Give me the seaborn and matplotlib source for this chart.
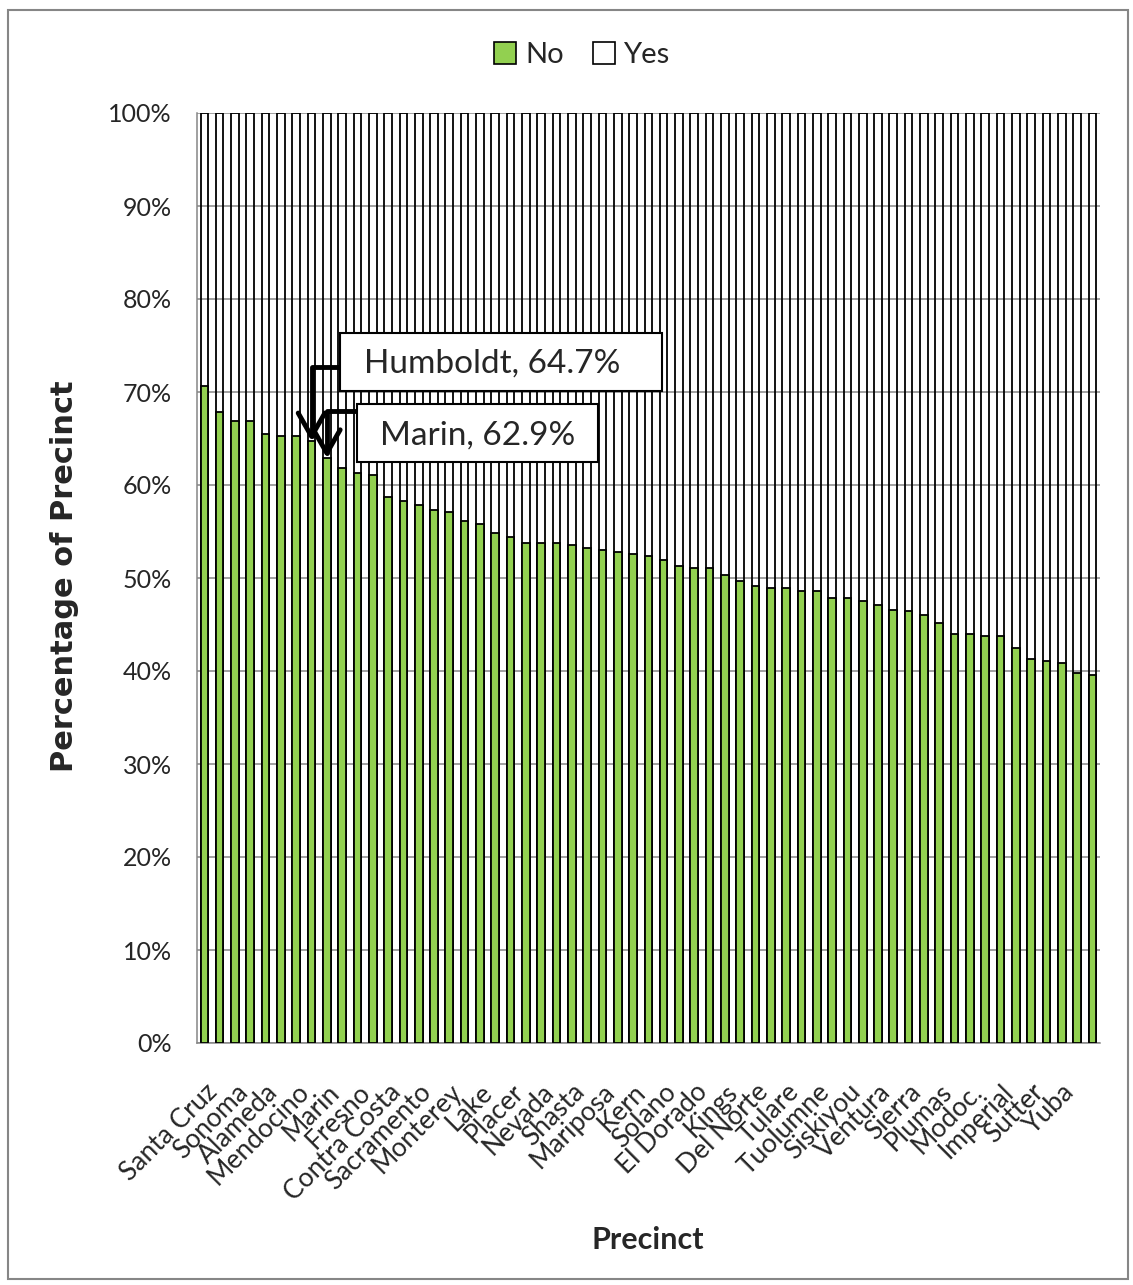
import matplotlib.pyplot as plt
import matplotlib.ticker as mticker
import numpy as np
import pandas as pd
import seaborn as sns
from matplotlib.patches import Patch, Rectangle
from matplotlib.transforms import Bbox, TransformedBbox

# --- data (% of precinct voting No) ---
counties = [
    "Santa Cruz", "San Francisco", "Sonoma", "Alpine", "Alameda", "San Mateo",
    "Mendocino", "Humboldt", "Marin", "Santa Clara", "Fresno", "Yolo",
    "Contra Costa", "Napa", "Sacramento", "Santa Barbara", "Monterey",
    "San Luis Obispo", "Lake", "Los Angeles", "Placer", "Trinity", "Nevada",
    "San Benito", "Shasta", "Inyo", "Mariposa", "Mono", "Kern", "Butte",
    "Solano", "Amador", "El Dorado", "Calaveras", "Kings", "San Diego",
    "Del Norte", "San Joaquin", "Tulare", "Stanislaus", "Tuolumne", "Merced",
    "Siskiyou", "Orange", "Ventura", "Riverside", "Sierra", "San Bernardino",
    "Plumas", "Madera", "Modoc.", "Lassen", "Imperial", "Tehama", "Sutter",
    "Glenn", "Yuba", "Colusa", "Statewide",
]
no_pct = [
    70.6, 67.8, 66.9, 66.9, 65.5, 65.3, 65.3, 64.7, 62.9, 61.8,
    61.3, 61.1, 58.7, 58.3, 57.9, 57.3, 57.1, 56.1, 55.8, 54.8,
    54.4, 53.8, 53.8, 53.8, 53.5, 53.2, 53.0, 52.8, 52.6, 52.4,
    51.9, 51.3, 51.1, 51.1, 50.3, 49.7, 49.1, 48.9, 48.9, 48.6,
    48.6, 47.9, 47.9, 47.5, 47.1, 46.6, 46.5, 46.0, 45.2, 44.0,
    44.0, 43.8, 43.8, 42.5, 41.3, 41.1, 40.9, 39.8, 39.6,
]
yes_pct = [round(100 - v, 1) for v in no_pct]
tick_labels = counties[0:57:2]  # Excel only prints every second name
callouts = [("Humboldt", 64.7), ("Marin", 62.9)]

df = pd.DataFrame({"county": counties, "No": no_pct, "Yes": yes_pct})
df["total"] = df["No"] + df["Yes"]

GREEN = "#92D050"
GRAY = "#868686"
W, H = 1133, 1285

sns.set_style("white")
plt.rcParams["font.family"] = ["Lato", "DejaVu Sans"]

fig = plt.figure(figsize=(W / 100, H / 100), dpi=100)
ax = fig.add_axes([196.7 / W, 1 - 1043 / H, (1100 - 196.7) / W, (1043 - 113) / H])

# stacked 100% bars: outline for the full column, green "No" part on top
sns.barplot(data=df, x="county", y="total", order=counties, fill=False,
            color="black", width=0.5, linewidth=1.3, errorbar=None, ax=ax, zorder=2)
sns.barplot(data=df, x="county", y="No", order=counties, color=GREEN,
            saturation=1, edgecolor="black", width=0.5, linewidth=1.3,
            errorbar=None, ax=ax, zorder=3)

ax.set_xlim(-0.5, len(counties) - 0.5)
ax.set_ylim(0, 100)
ax.yaxis.set_major_locator(mticker.MultipleLocator(10))
ax.yaxis.set_major_formatter(mticker.PercentFormatter(decimals=0))
ax.grid(axis="y", color=GRAY, linewidth=1.1)
ax.set_axisbelow(True)

ax.set_xticks(range(0, 57, 2), tick_labels, rotation=45, ha="right",
              rotation_mode="anchor", fontsize=19)
ax.set_xticks(np.arange(-0.5, len(counties), 1), minor=True)
ax.tick_params(axis="x", which="major", length=0, pad=26)
ax.tick_params(axis="x", which="minor", length=6, width=1.1, color=GRAY)
ax.tick_params(axis="y", length=6, width=1.1, color=GRAY, labelsize=18, pad=12)
ax.set_xlabel("")
ax.set_ylabel("")
for side in ["top", "right"]:
    ax.spines[side].set_visible(False)
for side in ["left", "bottom"]:
    ax.spines[side].set_color(GRAY)
    ax.spines[side].set_linewidth(1.1)

# callout boxes with elbow arrows
boxes = {
    "Humboldt": dict(rect=(340, 333, 322, 58), text=(492, 364), start=(340, 367)),
    "Marin": dict(rect=(357, 404, 241, 58), text=(478, 436), start=(357, 411)),
}
for name, val in callouts:
    b = boxes[name]
    x0, y0, bw, bh = b["rect"]
    ax.add_patch(Rectangle((x0 / W, 1 - (y0 + bh) / H), bw / W, bh / H,
                           transform=fig.transFigure, facecolor="white",
                           edgecolor="black", linewidth=1.5, clip_on=False, zorder=6))
    ax.text(b["text"][0] / W, 1 - b["text"][1] / H, f"{name}, {val}%",
            transform=fig.transFigure, ha="center", va="center", fontsize=24, zorder=7)
    sx, sy = b["start"]
    ax.annotate("", xy=(counties.index(name), val), xycoords="data",
                xytext=(sx / W, 1 - sy / H), textcoords="figure fraction",
                arrowprops=dict(arrowstyle="->,head_length=0.7,head_width=0.4",
                                connectionstyle="angle,angleA=0,angleB=90,rad=0",
                                color="black", linewidth=3.5, mutation_scale=24,
                                shrinkA=0, shrinkB=0),
                zorder=5, annotation_clip=False)

# legend on top
handles = [Patch(facecolor=GREEN, edgecolor="black", linewidth=1.2),
           Patch(facecolor="white", edgecolor="black", linewidth=1.2)]
fig.legend(handles, ["No", "Yes"], loc="center", bbox_to_anchor=(582 / W, 1 - 55 / H),
           ncol=2, frameon=False, fontsize=21, handlelength=0.75, handleheight=0.75,
           handletextpad=0.3, columnspacing=1.0)

# axis titles
fig.text(648 / W, 1 - 1240 / H, "Precinct", ha="center", va="center",
         fontsize=22, fontweight="bold")
ylab = fig.text(65 / W, 1 - 772 / H, "Percentage of Precinct", rotation=90,
                ha="center", va="bottom", fontsize=22, fontweight="bold",
                family="DejaVu Sans")
# the original label runs past the chart area and gets cut at the top
ylab.set_clip_box(TransformedBbox(Bbox([[0, 0], [1, 1 - 350 / H]]), fig.transFigure))
ylab.set_clip_on(True)

# chart area border
fig.add_artist(Rectangle((8 / W, 1 - 1279 / H), 1120 / W, 1269 / H,
                         transform=fig.transFigure, fill=False,
                         edgecolor=GRAY, linewidth=1.5))

fig.savefig("out.png", dpi=100)
